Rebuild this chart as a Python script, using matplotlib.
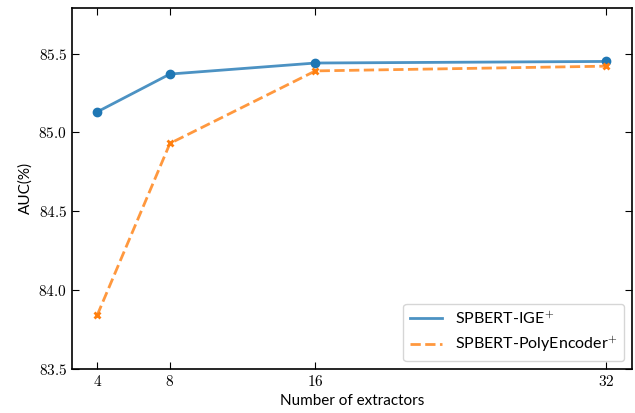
import matplotlib
matplotlib.use("Agg")
import matplotlib.pyplot as plt
from matplotlib.ticker import FixedLocator, FuncFormatter

extractors = [4, 8, 16, 32]
ige = [85.13, 85.37, 85.44, 85.45]
poly = [83.84, 84.93, 85.39, 85.42]
yticks = [83.5, 84.0, 84.5, 85.0, 85.5]

plt.rcParams['font.family'] = ['Lato', 'DejaVu Sans']
plt.rcParams['mathtext.fontset'] = 'cm'

fig = plt.figure(figsize=(6.35, 4.13), dpi=100)
ax = fig.add_axes([0.113, 0.107, 0.882, 0.874])

c1 = '#1f77b4'
c2 = '#ff7f0e'
ax.plot(extractors, ige, '-', color=c1, lw=2, alpha=0.8, label=r'SPBERT-IGE$^{+}$')
ax.plot(extractors, poly, '--', color=c2, lw=2, alpha=0.8, label=r'SPBERT-PolyEncoder$^{+}$')
ax.plot(extractors, ige, 'o', color=c1, ms=6, ls='none')
ax.plot(extractors, poly, 'x', color=c2, ms=5, mew=2, ls='none')

ax.set_xlim(2.6, 33.4)
ax.set_ylim(83.5, 85.79)
ax.xaxis.set_major_locator(FixedLocator(extractors))
ax.yaxis.set_major_locator(FixedLocator(yticks))
ax.xaxis.set_major_formatter(FuncFormatter(lambda v, p: r'$%d$' % v))
ax.yaxis.set_major_formatter(FuncFormatter(lambda v, p: r'$%.1f$' % v))
ax.tick_params(direction='in', top=True, right=True, labelsize=11, length=5)
for s in ax.spines.values():
    s.set_linewidth(1.2)

ax.set_xlabel('Number of extractors', fontsize=11)
ax.set_ylabel('AUC(%)', fontsize=11)
ax.legend(loc='lower right', fontsize=11.5, handlelength=2.0)

fig.savefig('out.png', dpi=100)
